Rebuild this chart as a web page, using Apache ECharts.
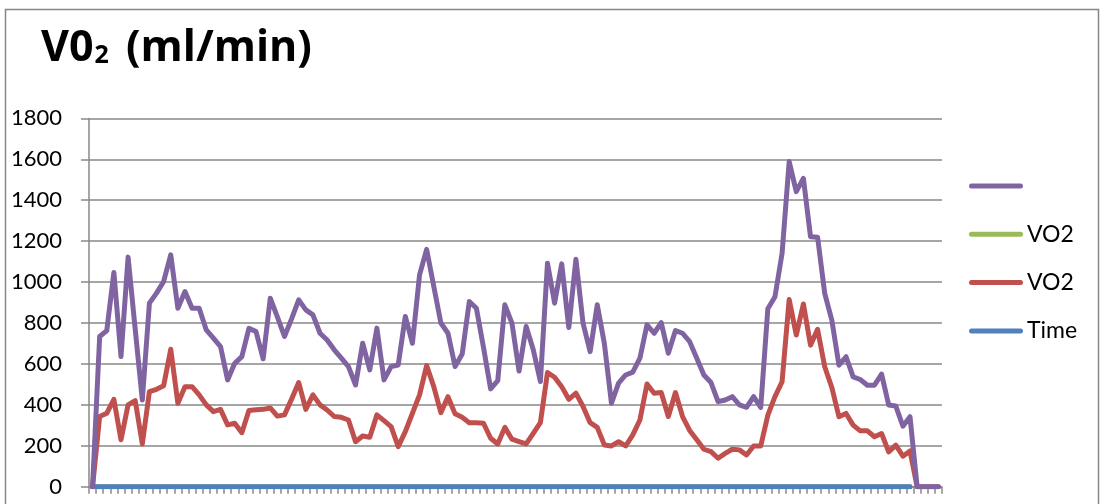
<!DOCTYPE html>
<html>
<head>
<meta charset="utf-8">
<script src="https://cdn.jsdelivr.net/npm/echarts@6/dist/echarts.min.js"></script>
<style>
html,body{margin:0;padding:0;background:#fff;}
#chart{width:1105px;height:504px;}
</style>
</head>
<body>
<div id="chart"></div>
<script>
// ---- data ----
const yTicks = [0, 200, 400, 600, 800, 1000, 1200, 1400, 1600, 1800];

const seriesPurple = [
  0, 734, 763, 1047, 636, 1122, 770, 424, 897, 946,
  1003, 1133, 872, 954, 872, 872, 766, 726, 685, 522,
  603, 636, 774, 758, 625, 921, 830, 734, 820, 913,
  864, 840, 750, 717, 669, 628, 587, 497, 701, 571,
  775, 522, 587, 595, 832, 701, 1035, 1160, 980, 800,
  750, 587, 648, 905, 872, 680, 478, 518, 889, 799,
  565, 783, 669, 514, 1092, 897, 1089, 778, 1112, 799,
  660, 889, 700, 408, 506, 546, 560, 628, 791, 750,
  802, 652, 763, 750, 709, 628, 546, 509, 416, 424,
  440, 400, 388, 440, 388, 870, 928, 1140, 1589, 1442,
  1507, 1222, 1219, 945, 814, 594, 635, 537, 524, 496,
  496, 550, 399, 394, 296, 342, 0, 0, 0, 0
];

const seriesRed = [
  0, 343, 359, 427, 229, 400, 421, 209, 465, 476,
  493, 672, 408, 489, 489, 449, 400, 367, 378, 302,
  310, 264, 372, 376, 378, 385, 345, 351, 428, 509,
  378, 449, 400, 375, 343, 339, 326, 220, 248, 242,
  351, 323, 294, 196, 269, 359, 449, 592, 489, 362,
  440, 356, 339, 313, 313, 310, 237, 209, 290, 232,
  220, 209, 261, 313, 558, 535, 489, 427, 457, 392,
  313, 290, 204, 199, 220, 199, 253, 326, 502, 457,
  460, 343, 460, 343, 275, 229, 183, 171, 139, 163,
  183, 180, 155, 199, 199, 350, 440, 513, 915, 741,
  893, 692, 769, 586, 485, 342, 358, 301, 273, 273,
  244, 260, 170, 203, 149, 175, 0, 0, 0, 0
];

const seriesGreen = [
  0,0,0,0,0,0,0,0,0,0, 0,0,0,0,0,0,0,0,0,0,
  0,0,0,0,0,0,0,0,0,0, 0,0,0,0,0,0,0,0,0,0,
  0,0,0,0,0,0,0,0,0,0, 0,0,0,0,0,0,0,0,0,0,
  0,0,0,0,0,0,0,0,0,0, 0,0,0,0,0,0,0,0,0,0,
  0,0,0,0,0,0,0,0,0,0, 0,0,0,0,0,0,0,0,0,0,
  0,0,0,0,0,0,0,0,0,0, 0,0,0,0,0,0,null,null,null,null
];

const seriesTime = [
  0,0,0,0,0,0,0,0,0,0, 0,0,0,0,0,0,0,0,0,0,
  0,0,0,0,0,0,0,0,0,0, 0,0,0,0,0,0,0,0,0,0,
  0,0,0,0,0,0,0,0,0,0, 0,0,0,0,0,0,0,0,0,0,
  0,0,0,0,0,0,0,0,0,0, 0,0,0,0,0,0,0,0,0,0,
  0,0,0,0,0,0,0,0,0,0, 0,0,0,0,0,0,0,0,0,0,
  0,0,0,0,0,0,0,0,0,0, 0,0,0,0,0,0,null,null,null,null
];

const categories = [];
for (let i = 1; i <= seriesPurple.length; i++) categories.push(String(i));

const legendLabels = { p: '\u00a0', g: 'VO2', r: 'VO2', t: 'Time' };

// ---- chart ----
const chart = echarts.init(document.getElementById('chart'), null, { renderer: 'canvas' });
const gray = '#898989';
const legendIcon = 'path://M2.5,0 L51.5,0 A2.5,2.5 0 0 1 51.5,5 L2.5,5 A2.5,2.5 0 0 1 2.5,0 Z';

function lineSeries(id, data, color, z) {
  return {
    name: id, type: 'line', data: data, symbol: 'none', showSymbol: false,
    z: z, animation: false,
    lineStyle: { color: color, width: 5, cap: 'round', join: 'round' },
    itemStyle: { color: color }
  };
}

chart.setOption({
  animation: false,
  backgroundColor: '#fff',
  title: {
    left: 36, top: 19,
    text: '{a|V0}{b|2}{a| (ml/min)}',
    textStyle: {
      rich: {
        a: { fontFamily: 'Open Sans', fontWeight: 'bold', fontSize: 43, lineHeight: 50, color: '#000' },
        b: { fontFamily: 'Open Sans', fontWeight: 'bold', fontSize: 25, lineHeight: 36, padding: [14, 6, 0, 1], color: '#000' }
      }
    }
  },
  graphic: [{
    type: 'rect', silent: true, z: 0,
    shape: { x: 5.5, y: 9.5, width: 1093, height: 560 },
    style: { fill: 'none', stroke: '#868686', lineWidth: 1.5 }
  }],
  legend: {
    orient: 'vertical', left: 964, top: 169,
    itemWidth: 54, itemHeight: 5, itemGap: 24.3,
    icon: legendIcon,
    data: ['p', 'g', 'r', 't'],
    formatter: function (n) { return legendLabels[n]; },
    textStyle: { fontFamily: 'Lato', fontSize: 23, color: '#000', lineHeight: 24, padding: [0, 0, 0, -1] },
    selectedMode: false
  },
  grid: { left: 89, right: 163, top: 118.4, bottom: 17.3, containLabel: false },
  xAxis: {
    type: 'category', data: categories, boundaryGap: true,
    axisLine: { lineStyle: { color: gray, width: 1.5 } },
    axisTick: { show: true, interval: 0, length: 7, lineStyle: { color: gray, width: 1.5 } },
    axisLabel: { show: false },
    splitLine: { show: false }
  },
  yAxis: {
    type: 'value', min: yTicks[0], max: yTicks[yTicks.length - 1], interval: 200,
    axisLine: { show: true, lineStyle: { color: gray, width: 1.5 } },
    axisTick: { show: true, length: 8, lineStyle: { color: gray, width: 1.5 } },
    axisLabel: { fontFamily: 'Lato', fontSize: 22, color: '#000', margin: 27,
                 formatter: function (v) { return String(v); } },
    splitLine: { show: true, lineStyle: { color: gray, width: 1.5 } }
  },
  series: [
    lineSeries('t', seriesTime, '#4F81BD', 2),
    lineSeries('g', seriesGreen, '#9BBB59', 1),
    lineSeries('r', seriesRed, '#C0504D', 3),
    lineSeries('p', seriesPurple, '#8064A2', 4)
  ]
});
</script>
</body>
</html>
